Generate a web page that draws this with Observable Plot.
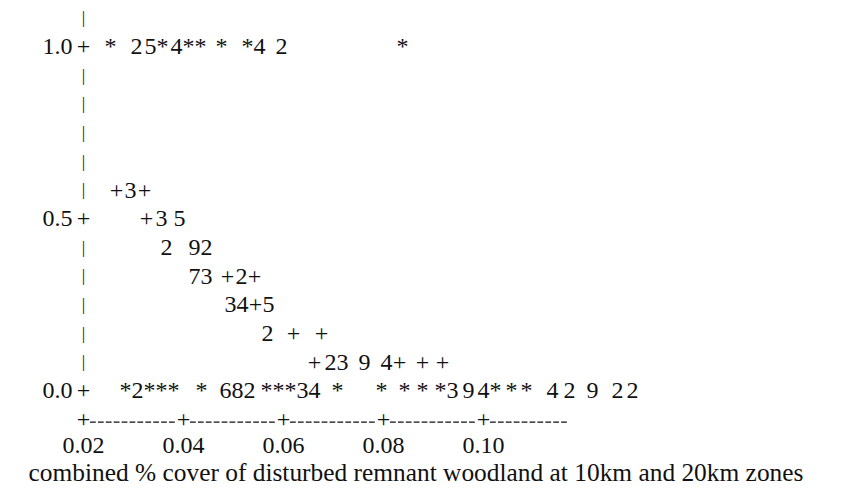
<!DOCTYPE html>
<html>
<head>
<meta charset="utf-8">
<script src="https://cdn.jsdelivr.net/npm/d3@7"></script>
<script src="https://cdn.jsdelivr.net/npm/@observablehq/plot@0.6"></script>
<style>
  html, body { margin: 0; padding: 0; background: #fff; }
  svg { display: block; }
</style>
</head>
<body>
<div id="chart"></div>
<script>
// ---- axis definitions ----
const xTicks = [0.02, 0.04, 0.06, 0.08, 0.10];
const yTicks = [0, 0.5, 1];
const xAxisEnd = 0.1168;
const xLabel = "combined % cover of disturbed remnant woodland at 10km and 20km zones";

// ASCII y-axis column: one symbol per print line (top to bottom)
const axisLevels = [13/12, 12/12, 11/12, 10/12, 9/12, 8/12, 7/12, 6/12, 5/12, 4/12, 3/12, 2/12, 1/12, 0];
const axisSymbols = "|+|||||+|||||+";

// ---- plotted symbols: '*' observed, '+' fitted, digits = overlapping counts ----
const rowLevels = [1, 7/12, 6/12, 5/12, 4/12, 3/12, 2/12, 1/12, 0];
const rowChars = [
  "*25*4****42*",
  "+3+",
  "+35",
  "292",
  "73+2+",
  "34+5",
  "2++",
  "+2394+++",
  "*2****682***34*****394***42922"
];
const rowX = [
  [0.0254, 0.0306, 0.0334, 0.0358, 0.0386, 0.0410, 0.0434, 0.0476, 0.0528, 0.0552, 0.0596, 0.0838],
  [0.0266, 0.0294, 0.0322],
  [0.0326, 0.0356, 0.0392],
  [0.0366, 0.0422, 0.0446],
  [0.0422, 0.0446, 0.0488, 0.0516, 0.0542],
  [0.0494, 0.0518, 0.0544, 0.0570],
  [0.0568, 0.0620, 0.0676],
  [0.0662, 0.0694, 0.0718, 0.0762, 0.0806, 0.0832, 0.0878, 0.0918],
  [0.0284, 0.0308, 0.0332, 0.0356, 0.0380, 0.0436, 0.0484, 0.0508, 0.0532,
   0.0566, 0.0590, 0.0614, 0.0638, 0.0662, 0.0708, 0.0796, 0.0842, 0.0878,
   0.0914, 0.0938, 0.0970, 0.1000, 0.1024, 0.1056, 0.1086, 0.1138, 0.1172,
   0.1218, 0.1268, 0.1298]
];

// ---- tables built from the arrays ----
const points = rowChars.flatMap((s, i) =>
  Array.from(s).map((c, j) => ({c, x: rowX[i][j], y: rowLevels[i]})));
const axisRows = axisLevels.map((y, i) => ({y, s: axisSymbols[i]}));
const axisSegments = xTicks.map((t, i) => ({
  a: t, b: i < xTicks.length - 1 ? xTicks[i + 1] : xAxisEnd, last: i === xTicks.length - 1
}));
const axisLineLevel = -1 / 12;

const fam = "'Liberation Serif', 'Times New Roman', Times, serif";
const ink = "#111";

const chart = Plot.plot({
  width: 851,
  height: 494,
  marginLeft: 83,
  marginRight: 68,
  marginTop: 46,
  marginBottom: 104,
  x: {domain: [0.02, 0.16]},
  y: {domain: [0, 1]},
  style: {fontFamily: fam, fontSize: "24px", color: ink, background: "#fff"},
  marks: [
    Plot.axisY({ticks: yTicks, tickFormat: d3.format(".1f"), tickSize: 0, tickPadding: 11,
                label: null, fontSize: 24, fill: ink}),
    Plot.axisX({ticks: xTicks, tickFormat: d3.format(".2f"), tickSize: 0, tickPadding: 45,
                label: null, fontSize: 24, fill: ink}),
    // ASCII x axis line: dashes between '+' ticks
    Plot.ruleY(axisSegments.filter(d => !d.last), {
      y: () => axisLineLevel, x1: "a", x2: "b", insetLeft: 7, insetRight: 7, dy: 3,
      stroke: ink, strokeWidth: 1.4, strokeDasharray: "5.8,2.1"
    }),
    Plot.ruleY(axisSegments.filter(d => d.last), {
      y: () => axisLineLevel, x1: "a", x2: "b", insetLeft: 7, dy: 3,
      stroke: ink, strokeWidth: 1.4, strokeDasharray: "5.8,2.1"
    }),
    Plot.text(xTicks, {x: d => d, y: () => axisLineLevel, text: () => "+", fontSize: 24, fill: ink}),
    // ASCII y axis column
    Plot.text(axisRows.filter(d => d.s === "|"), {x: () => xTicks[0], y: "y", text: "s", fontSize: 17, fill: ink}),
    Plot.text(axisRows.filter(d => d.s === "+"), {x: () => xTicks[0], y: "y", text: "s", fontSize: 24, fill: ink}),
    // plotted symbols
    Plot.text(points, {x: "x", y: "y", text: "c", fontSize: 24, fill: ink}),
    // x label
    Plot.text([xLabel], {text: d => d, frameAnchor: "bottom-left", textAnchor: "start",
                         dx: -55, dy: 90, fontSize: 25.4, fill: ink})
  ]
});
document.getElementById("chart").appendChild(chart);
</script>
</body>
</html>
